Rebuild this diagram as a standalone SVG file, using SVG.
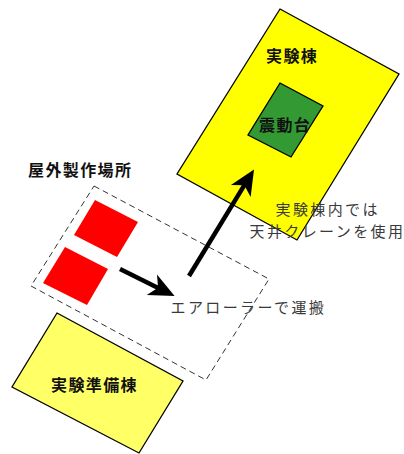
<svg xmlns="http://www.w3.org/2000/svg" width="404" height="454" viewBox="0 0 404 454">
<defs>
<style>
.lbl{font-family:"Noto Sans CJK JP","Noto Sans",sans-serif;font-size:16px;letter-spacing:1.4px;font-weight:bold;fill:#111}
.note{font-family:"Noto Sans CJK JP","Noto Sans",sans-serif;font-size:15px;letter-spacing:2.4px;fill:#3a3a3a}
.bld{stroke:#000;stroke-width:1.3}
.arr{stroke:#000;stroke-width:4.5;fill:none;marker-end:url(#head)}
</style>
<marker id="head" markerUnits="userSpaceOnUse" markerWidth="30" markerHeight="30" viewBox="-12 -12 26 24" refX="0" refY="0" orient="auto" overflow="visible">
<path d="M12,0 L-10,-10 L-4,0 L-10,10 Z" fill="#000"/>
</marker>
</defs>
<rect width="404" height="454" fill="#fff"/>
<g id="jikkentou">
<polygon class="bld" points="280,9 399,74 297,240 177,174" fill="#ffff00"/>
<text class="lbl" x="266" y="62">実験棟</text>
</g>
<g id="shindoudai">
<polygon class="bld" points="280,83 323,106 291,157 248,135" fill="#339933"/>
<text class="lbl" x="259" y="131">震動台</text>
</g>
<g id="okugai">
<polygon points="94,186 269,279 206,380 31,286" fill="none" stroke="#333" stroke-width="1" stroke-dasharray="6,4"/>
<text class="lbl" x="28" y="175.5">屋外製作場所</text>
<polygon points="95,200 138,222 117,257 74,235" fill="#ff0000"/>
<polygon points="65,247 108,269 87,305 43,283" fill="#ff0000"/>
</g>
<g id="junbitou">
<polygon class="bld" points="57,313 183,381 139,453 12,387" fill="#ffff66"/>
<text class="lbl" x="51" y="390.5">実験準備棟</text>
</g>
<g id="connectors">
<line class="arr" x1="120" y1="269" x2="162.2" y2="289.9"/>
<line class="arr" x1="189" y1="276" x2="246.8" y2="181.2"/>
</g>
<g id="notes">
<text class="note"><tspan x="275.5" y="214.5">実験棟内では</tspan><tspan x="249.5" y="236.5">天井クレーンを使用</tspan></text>
<text class="note" x="170.5" y="312.5">エアローラーで運搬</text>
</g>
</svg>
